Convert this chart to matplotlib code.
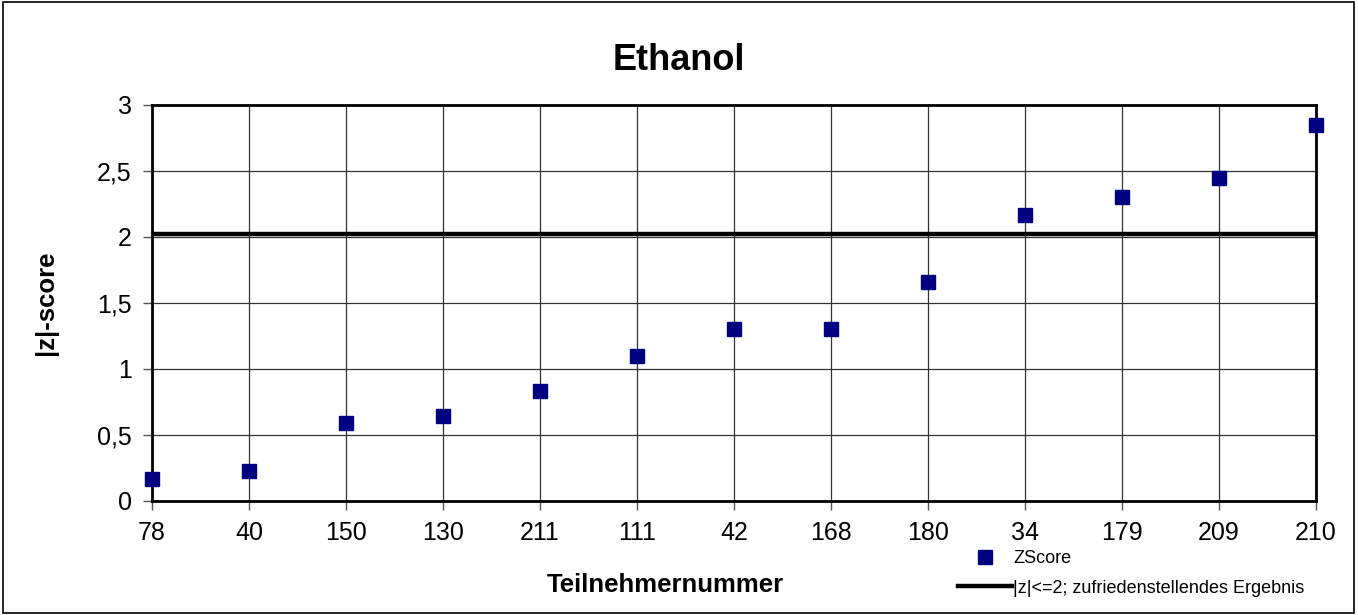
import matplotlib.pyplot as plt
from matplotlib.lines import Line2D
from matplotlib.patches import Rectangle

plt.rcParams['font.family'] = ['Liberation Sans', 'DejaVu Sans']

# participant numbers (category axis) and |z|-scores
teilnehmer = ['78', '40', '150', '130', '211', '111', '42', '168', '180', '34', '179', '209', '210']
zscore = [0.17, 0.23, 0.59, 0.64, 0.83, 1.10, 1.30, 1.30, 1.66, 2.17, 2.30, 2.45, 2.85]
grenze = [2.02] * len(teilnehmer)

fig = plt.figure(figsize=(13.58, 6.15), dpi=100)
ax = fig.add_axes([0.1119, 0.1854, 0.8572, 0.6439])

x = list(range(len(teilnehmer)))
ax.plot(x, grenze, color='black', lw=3.2, zorder=3)
ax.plot(x, zscore, ls='none', marker='s', ms=10.5, color='#000080', zorder=4, clip_on=False)

ax.set_xlim(0, len(teilnehmer) - 1)
ax.set_ylim(0, 3)
ax.set_xticks(x)
ax.set_xticklabels(teilnehmer)
ax.set_yticks([0, 0.5, 1, 1.5, 2, 2.5, 3])
ax.set_yticklabels(['0', '0,5', '1', '1,5', '2', '2,5', '3'])
ax.tick_params(labelsize=18, length=6.5, width=1, color='#555555', direction='out')
ax.tick_params(axis='x', pad=8)
ax.tick_params(axis='y', pad=8)
ax.grid(True, color='#333333', lw=0.9)
ax.set_axisbelow(True)
for s in ax.spines.values():
    s.set_linewidth(2)
    s.set_color('black')

# title and x label sit centred on the figure, not on the plot area
ax.set_title('Ethanol', fontsize=26, fontweight='bold', pad=25, x=0.4527)
ax.set_xlabel('Teilnehmernummer', fontsize=18.5, fontweight='bold', labelpad=20, x=0.4407)
ax.set_ylabel('|z|-score', fontsize=18.5, fontweight='bold', labelpad=28)

handles = [
    Line2D([], [], ls='none', marker='s', ms=10, color='#000080'),
    Line2D([], [], color='black', lw=3.2),
]
fig.legend(handles, ['ZScore', '|z|<=2; zufriedenstellendes Ergebnis'],
           loc='lower left', bbox_to_anchor=(0.7054, 0.030), frameon=False,
           fontsize=13, handlelength=3.0, handletextpad=0.05, labelspacing=0.67,
           borderpad=0, borderaxespad=0)

fig.patches.append(Rectangle((0.002, 0.003), 0.995, 0.994, transform=fig.transFigure,
                             fill=False, edgecolor='black', lw=1.2))

fig.savefig('out.png', dpi=100)
